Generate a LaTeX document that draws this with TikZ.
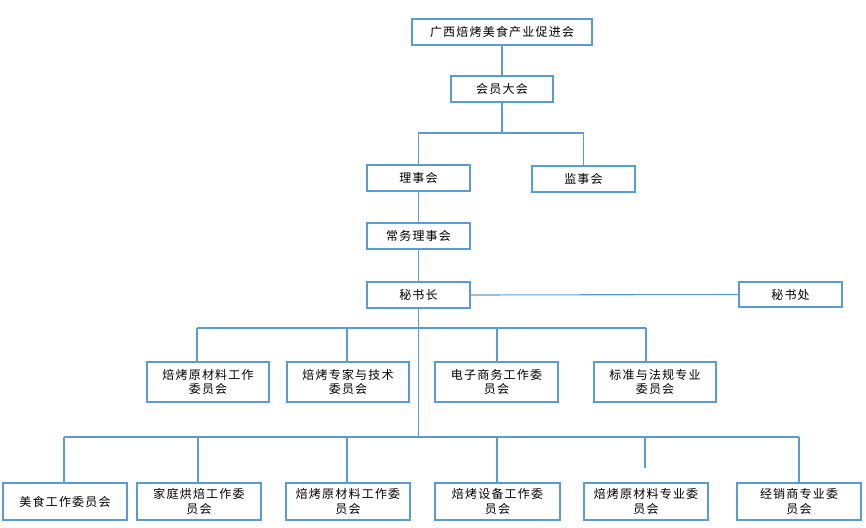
\documentclass[tikz,border=0pt]{standalone}
\usepackage{fontspec}
\setmainfont{Noto Sans CJK SC}[LetterSpace=10]
\begin{document}
\begin{tikzpicture}[x=1pt,y=-1pt,
  box/.style={draw=lineblue,line width=1.1pt,fill=white,inner sep=0pt,align=center,font=\fontsize{12}{14.5}\selectfont,text=black},
  conn/.style={draw=lineblue,line width=1.1pt}]
\definecolor{lineblue}{HTML}{5B9BD5}
\useasboundingbox (0,0) rectangle (866,527);
% nodes
\node[box,minimum width=180pt,minimum height=26pt] (top) at (502,32) {广西焙烤美食产业促进会};
\node[box,minimum width=102pt,minimum height=26pt] (hydh) at (502,89) {会员大会};
\node[box,minimum width=103pt,minimum height=26pt] (lsh) at (418.5,178) {理事会};
\node[box,minimum width=103pt,minimum height=26pt] (jsh) at (583.5,179) {监事会};
\node[box,minimum width=103pt,minimum height=26pt] (cw) at (418.5,236) {常务理事会};
\node[box,minimum width=103pt,minimum height=26pt] (msz) at (418.5,295) {秘书长};
\node[box,minimum width=103pt,minimum height=25pt] (msc) at (790.5,294.5) {秘书处};
% row 1
\node[box,minimum width=122pt,minimum height=40pt] (ra) at (208,382) {焙烤原材料工作\\委员会};
\node[box,minimum width=122pt,minimum height=40pt] (rb) at (348,382) {焙烤专家与技术\\委员会};
\node[box,minimum width=123pt,minimum height=40pt] (rc) at (496.5,382) {电子商务工作委\\员会};
\node[box,minimum width=122pt,minimum height=40pt] (rd) at (655,382) {标准与法规专业\\委员会};
% row 2
\node[box,minimum width=124pt,minimum height=37pt] (sa) at (65,501.5) {美食工作委员会};
\node[box,minimum width=124pt,minimum height=37pt] (sb) at (199,501.5) {家庭烘焙工作委\\员会};
\node[box,minimum width=124pt,minimum height=37pt] (sc) at (348,501.5) {焙烤原材料工作委\\员会};
\node[box,minimum width=125pt,minimum height=37pt] (sd) at (497.5,501.5) {焙烤设备工作委\\员会};
\node[box,minimum width=124pt,minimum height=37pt] (se) at (646,501.5) {焙烤原材料专业委\\员会};
\node[box,minimum width=124pt,minimum height=37pt] (sf) at (799,501.5) {经销商专业委\\员会};
% connectors
\draw[conn] (top.south) -- (hydh.north);
\coordinate (j1) at (502,133);
\draw[conn] (hydh.south) -- (j1);
\draw[conn] (lsh.north) |- (j1) -| (jsh.north);
\draw[conn] (lsh.south) -- (cw.north);
\draw[conn] (cw.south) -- (msz.north);
\draw[conn] (msz.east) -- (msc.west);
% row 1 bus
\coordinate (t2) at (418.5,437);
\coordinate (d1) at (197,328);
\coordinate (d2) at (347,328);
\coordinate (d3) at (497,328);
\coordinate (d4) at (646,328);
\draw[conn] (msz.south) -- (t2);
\draw[conn] (d1) -- (d4);
\draw[conn] (d1) -- (d1 |- ra.north);
\draw[conn] (d2) -- (d2 |- rb.north);
\draw[conn] (d3) -- (d3 |- rc.north);
\draw[conn] (d4) -- (d4 |- rd.north);
% row 2 bus
\coordinate (e1) at (64,437);
\coordinate (e2) at (198,437);
\coordinate (e3) at (347,437);
\coordinate (e4) at (497,437);
\coordinate (e5) at (645,437);
\coordinate (e5end) at (645,468);
\coordinate (e6) at (799,437);
\draw[conn] (e1) -- (e6);
\draw[conn] (e1) -- (e1 |- sa.north);
\draw[conn] (e2) -- (e2 |- sb.north);
\draw[conn] (e3) -- (e3 |- sc.north);
\draw[conn] (e4) -- (e4 |- sd.north);
\draw[conn] (e5) -- (e5end);
\draw[conn] (e6) -- (e6 |- sf.north);
\end{tikzpicture}
\end{document}
